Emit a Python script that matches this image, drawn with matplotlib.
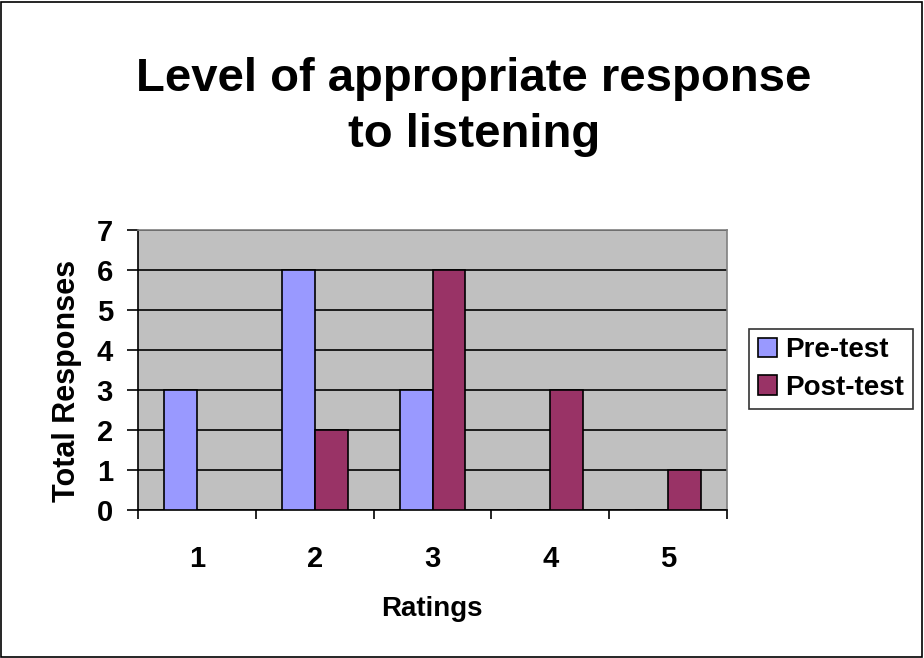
import matplotlib
matplotlib.use("Agg")
import matplotlib.pyplot as plt
import numpy as np
from matplotlib.patches import Rectangle

categories = ["1", "2", "3", "4", "5"]
pre_test = [3, 6, 3, 0, 0]
post_test = [0, 2, 6, 3, 1]
series_names = ["Pre-test", "Post-test"]
yticks = [0, 1, 2, 3, 4, 5, 6, 7]

plt.rcParams['font.family'] = ['Liberation Sans', 'DejaVu Sans']
plt.rcParams['font.weight'] = 'bold'

W, H = 924, 658
fig = plt.figure(figsize=(W/100, H/100), dpi=100)
fig.patch.set_facecolor('white')
fig.add_artist(Rectangle((1/W, 1/H), (W-3)/W, (H-3)/H, transform=fig.transFigure,
                         fill=False, edgecolor='black', linewidth=1.2))

ax = fig.add_axes([138/W, 1-510/H, (727-138)/W, (510-230)/H])
ax.set_facecolor('#C0C0C0')
x = np.arange(len(categories))
bw = 0.28
ax.bar(x - bw/2, pre_test, bw, color='#9999FF', edgecolor='black', linewidth=1.2,
       label=series_names[0], zorder=3)
ax.bar(x + bw/2, post_test, bw, color='#993366', edgecolor='black', linewidth=1.2,
       label=series_names[1], zorder=3)
ax.set_xlim(-0.5, len(categories) - 0.5)
ax.set_ylim(0, 7)
ax.set_yticks(yticks)
ax.set_yticklabels([str(v) for v in yticks], fontsize=21, fontweight='bold')
ax.yaxis.grid(True, color='black', linewidth=1.2, zorder=1)
ax.set_axisbelow(True)
ax.set_xticks(np.arange(len(categories) + 1) - 0.5)
ax.set_xticklabels([])
ax.set_xticks(x, minor=True)
ax.set_xticklabels(categories, minor=True, fontsize=21, fontweight='bold')
ax.tick_params(axis='x', which='minor', length=0, pad=25)
ax.tick_params(axis='x', which='major', length=6.5, width=1.2, direction='out')
ax.tick_params(axis='y', length=8, width=1.2, direction='out', pad=10)
for s in ['left', 'bottom']:
    ax.spines[s].set_color('black')
    ax.spines[s].set_linewidth(1.2)
for s in ['top', 'right']:
    ax.spines[s].set_color('#808080')
    ax.spines[s].set_linewidth(1.2)

ax.set_xlabel('Ratings', fontsize=20, fontweight='bold')
ax.xaxis.set_label_coords((432-138)/589, (510-596)/280)
ax.set_ylabel('Total Responses', fontsize=22, fontweight='bold')
ax.yaxis.set_label_coords((82-138)/589, (510-381)/280)

fig.text(474/W, 1-107/H, 'Level of appropriate response\nto listening', ha='center', va='center',
         fontsize=34, fontweight='bold', linespacing=1.38)

leg = fig.legend(loc='center', bbox_to_anchor=(831/W, 1-369/H),
                 frameon=True, fancybox=False, edgecolor='black', handlelength=0.7,
                 handleheight=0.7, handletextpad=0.3, borderpad=0.3, labelspacing=0.4,
                 borderaxespad=0, prop={'weight': 'bold', 'size': 20})
leg.get_frame().set_linewidth(1.2)
for h in leg.legend_handles:
    h.set_edgecolor('black')
    h.set_linewidth(1.2)

fig.savefig('out.png', dpi=100)
